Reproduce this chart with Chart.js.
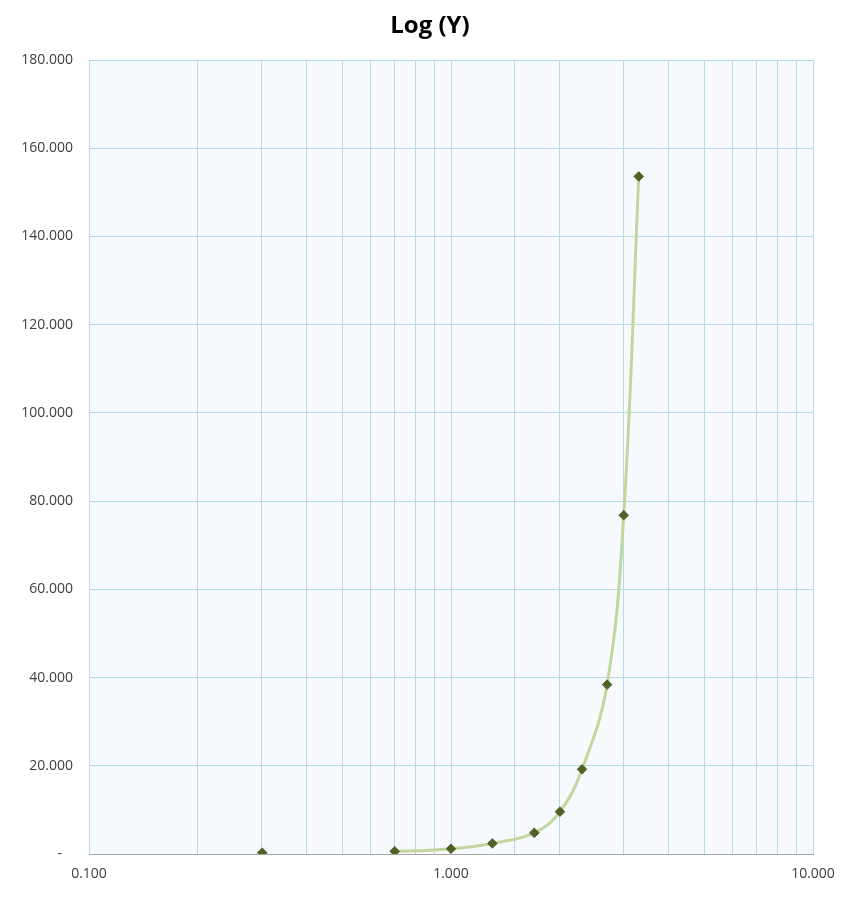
<!DOCTYPE html>
<html>
<head>
<meta charset="utf-8">
<script src="https://cdn.jsdelivr.net/npm/chart.js@4"></script>
<style>
html,body{margin:0;padding:0;background:#fff;}
#wrap{width:860px;height:906px;}
</style>
</head>
<body>
<div id="wrap"><canvas id="c" width="860" height="906"></canvas></div>
<script>
const titleText = 'Log (Y)';
const xValues = [0.301, 0.699, 1.000, 1.301, 1.699, 2.000, 2.301, 2.699, 3.000, 3.301];
const yValues = [0.3, 0.6, 1.2, 2.4, 4.8, 9.6, 19.2, 38.4, 76.8, 153.6];
const xMin = 0.1, xMax = 10;
const yMin = 0, yMax = 180, yStep = 20;

const points = xValues.map((x, i) => ({x: x, y: yValues[i]}));

const plotBg = {
  id: 'plotBg',
  beforeDraw(chart) {
    const {ctx, chartArea: a} = chart;
    ctx.save();
    ctx.fillStyle = '#f6fafc';
    ctx.fillRect(a.left, a.top, a.right - a.left, a.bottom - a.top);
    ctx.restore();
  }
};

const fmt = v => v.toFixed(3);
const tickFont = {family: "'Open Sans', 'Noto Sans', sans-serif", size: 14};

new Chart(document.getElementById('c'), {
  type: 'scatter',
  data: {
    datasets: [{
      data: points,
      showLine: true,
      borderColor: '#c3d69b',
      borderWidth: 3,
      tension: 0.4,
      segment: {
        borderColor: ctx => ctx.p0DataIndex === 0 ? 'rgba(0,0,0,0)' : '#c3d69b'
      },
      pointStyle: 'rectRot',
      pointRadius: 4.8,
      pointHoverRadius: 4.8,
      pointBackgroundColor: '#4f6228',
      pointBorderColor: '#4f6228',
      pointBorderWidth: 1
    }]
  },
  options: {
    responsive: false,
    animation: false,
    devicePixelRatio: 1,
    layout: {padding: 0},
    plugins: {
      legend: {display: false},
      tooltip: {enabled: false},
      title: {
        display: true,
        text: titleText,
        color: '#000000',
        font: {family: "'Open Sans', 'Noto Sans', sans-serif", size: 24, weight: 'bold'},
        padding: {top: 12, bottom: 19.2}
      }
    },
    scales: {
      x: {
        type: 'logarithmic',
        min: xMin,
        max: xMax,
        afterFit(scale) { scale.height = 52; },
        border: {display: true, color: '#a6a6a6', width: 1},
        grid: {color: '#b4dce8', lineWidth: 1, drawTicks: false},
        ticks: {
          autoSkip: false,
          maxRotation: 0,
          color: '#404040',
          padding: 12,
          font: tickFont,
          callback: function(v) {
            const l = Math.log10(v);
            return Math.abs(l - Math.round(l)) < 1e-9 ? fmt(v) : '';
          }
        }
      },
      y: {
        min: yMin,
        max: yMax,
        afterFit(scale) { scale.width = 89; },
        border: {display: false},
        grid: {color: '#b4dce8', lineWidth: 1, drawTicks: false},
        ticks: {
          stepSize: yStep,
          color: '#404040',
          padding: 16,
          font: tickFont,
          callback: v => v === 0 ? '-   ' : fmt(v)
        }
      },
      yRight: {
        position: 'right',
        min: yMin,
        max: yMax,
        afterFit(scale) { scale.width = 47; },
        border: {display: false},
        grid: {display: false, drawTicks: false},
        ticks: {display: false}
      }
    }
  },
  plugins: [plotBg]
});
</script>
</body>
</html>
